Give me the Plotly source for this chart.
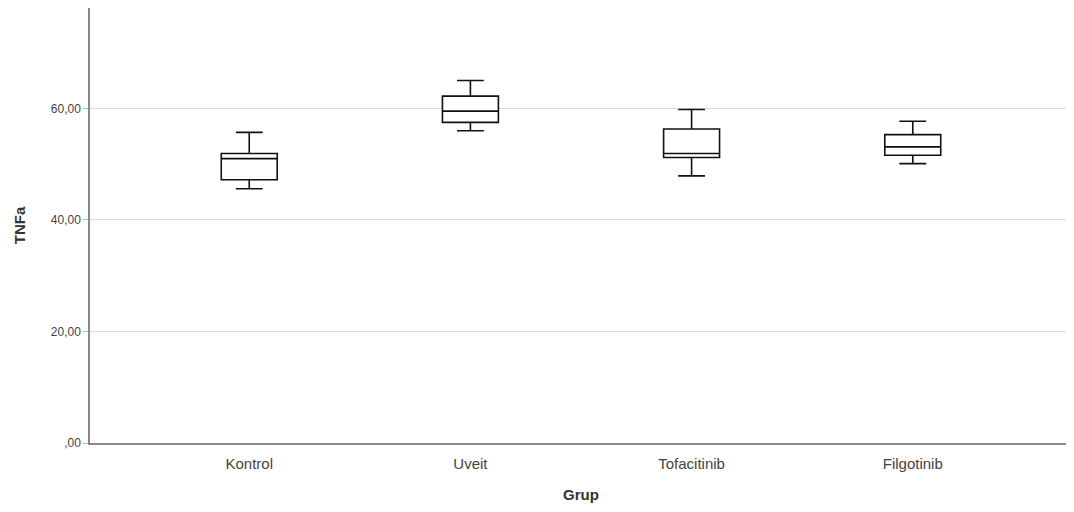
import plotly.graph_objects as go

groups = ["Kontrol", "Uveit", "Tofacitinib", "Filgotinib"]
lower_whisker = [45.6, 56.0, 47.9, 50.1]
q1_vals = [47.2, 57.5, 51.2, 51.6]
median_vals = [51.0, 59.5, 51.9, 53.1]
q3_vals = [51.9, 62.2, 56.3, 55.3]
upper_whisker = [55.7, 65.0, 59.8, 57.7]

y_tickvals = [0, 20, 40, 60]
y_ticktext = [",00", "20,00", "40,00", "60,00"]

fig = go.Figure()
fig.add_trace(go.Box(
    x=groups,
    q1=q1_vals,
    median=median_vals,
    q3=q3_vals,
    lowerfence=lower_whisker,
    upperfence=upper_whisker,
    fillcolor="white",
    line=dict(color="#111111", width=1.6),
    width=0.253,
    whiskerwidth=0.48,
    boxpoints=False,
    hoverinfo="skip",
    showlegend=False,
))

font_family = "Liberation Sans, Arial, sans-serif"
fig.update_layout(
    width=1066,
    height=504,
    margin=dict(l=82, r=2, t=0, b=69, autoexpand=False),
    paper_bgcolor="white",
    plot_bgcolor="white",
    font=dict(family=font_family, color="#333333"),
    xaxis=dict(
        range=[-0.72, 3.72],
        showgrid=False,
        showline=True,
        linecolor="#888888",
        linewidth=1.5,
        ticks="outside",
        ticklen=6,
        tickcolor="rgba(0,0,0,0)",
        tickfont=dict(size=15, color="#444444"),
        title=dict(text="<b>Grup</b>", font=dict(size=15, color="#333333"), standoff=19),
        zeroline=False,
    ),
    yaxis=dict(
        range=[0, 78],
        tickvals=y_tickvals,
        ticktext=y_ticktext,
        showgrid=True,
        gridcolor="#d9d9d9",
        gridwidth=1.3,
        showline=True,
        linecolor="#888888",
        linewidth=1.5,
        ticks="outside",
        ticklen=5,
        tickcolor="#bbbbbb",
        tickfont=dict(size=12, color="#444444"),
        title=dict(text="<b>TNFa</b>", font=dict(size=15, color="#333333"), standoff=22),
        zeroline=False,
    ),
)

fig.write_html("out.html")
